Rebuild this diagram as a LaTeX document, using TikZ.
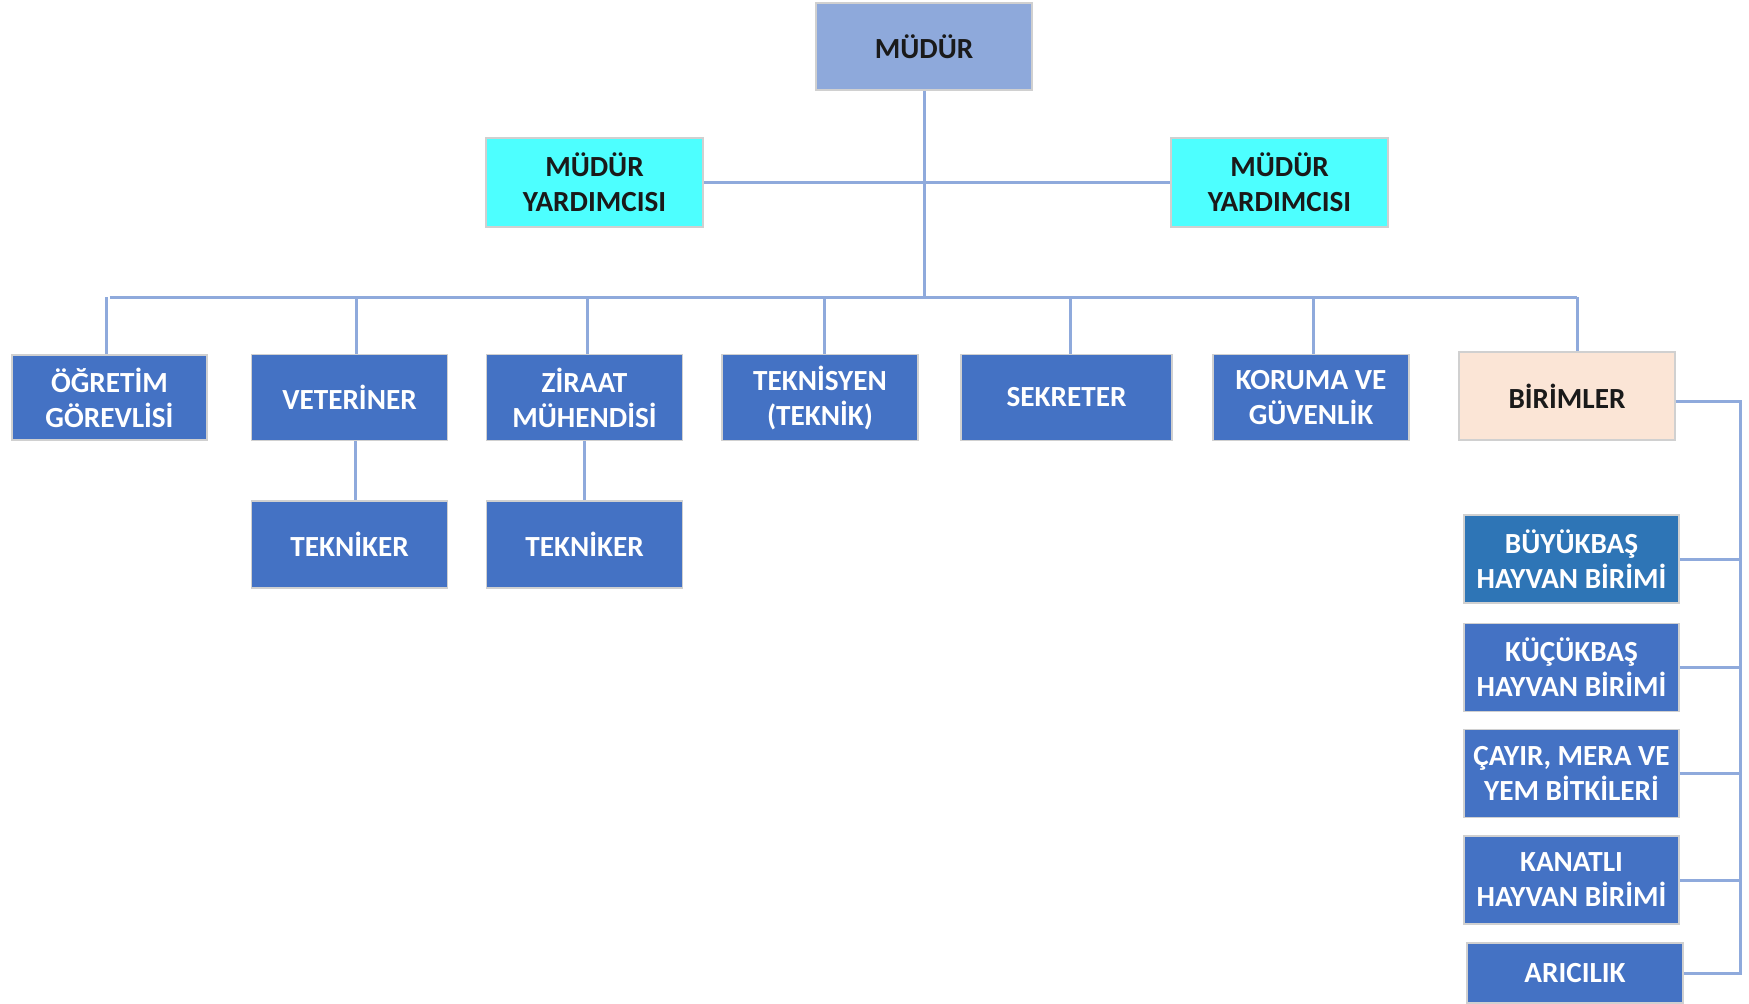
\documentclass[tikz,border=0pt]{standalone}
\usepackage{fontspec}
\setmainfont{Carlito}
\definecolor{topblue}{HTML}{8EA9DB}
\definecolor{cyanbox}{HTML}{4DFFFF}
\definecolor{midblue}{HTML}{4472C4}
\definecolor{deepblue}{HTML}{2E75B6}
\definecolor{peach}{HTML}{FBE5D6}
\definecolor{linkblue}{HTML}{8FAADC}
\definecolor{edgegray}{HTML}{D0D0D0}
\definecolor{darktext}{HTML}{1A1A1A}
\begin{document}
\begin{tikzpicture}[x=0.5pt,y=-0.5pt,
  box/.style={draw=edgegray, line width=0.8pt, align=center, inner sep=1pt,
    font=\bfseries\fontsize{14.6}{17.5}\selectfont},
  bluebox/.style={box, fill=midblue, text=white, minimum width=98pt, minimum height=43pt},
  unitbox/.style={box, fill=midblue, text=white, minimum width=107.5pt, minimum height=44pt},
  link/.style={draw=linkblue, line width=1.5pt}]
\useasboundingbox (0,0) rectangle (1749,1003);
\fill[white] (0,0) rectangle (1749,1003);

% top
\node[box, fill=topblue, text=darktext, minimum width=108pt, minimum height=43.5pt] (mud) at (924,46.5) {MÜDÜR};
\node[box, fill=cyanbox, text=darktext, minimum width=108.5pt, minimum height=44.5pt] (my1) at (594.5,182.5) {MÜDÜR\\YARDIMCISI};
\node[box, fill=cyanbox, text=darktext, minimum width=108.5pt, minimum height=44.5pt] (my2) at (1279.5,182.5) {MÜDÜR\\YARDIMCISI};

% row
\node[bluebox, minimum width=97.5pt, minimum height=42.5pt] (ogr) at (109.5,397.5) {ÖĞRETİM\\GÖREVLİSİ};
\node[bluebox] (vet) at (349.5,397.5) {VETERİNER};
\node[bluebox] (zir) at (584.5,397.5) {ZİRAAT\\MÜHENDİSİ};
\node[bluebox] (tks) at (820,397.5) {TEKNİSYEN\\(TEKNİK)};
\node[bluebox, minimum width=105.5pt] (sek) at (1066.5,397.5) {SEKRETER};
\node[bluebox] (kor) at (1311,397.5) {KORUMA VE\\GÜVENLİK};
\node[box, fill=peach, text=darktext, minimum width=108pt, minimum height=44pt] (bir) at (1567,396) {BİRİMLER};

\node[bluebox, minimum height=43.5pt] (tk1) at (349.5,544.5) {TEKNİKER};
\node[bluebox, minimum height=43.5pt] (tk2) at (584.5,544.5) {TEKNİKER};

% units
\node[unitbox, fill=deepblue] (buy) at (1571.5,559) {BÜYÜKBAŞ\\HAYVAN BİRİMİ};
\node[unitbox] (kuc) at (1571.5,667.5) {KÜÇÜKBAŞ\\HAYVAN BİRİMİ};
\node[unitbox] (cay) at (1571.5,773.5) {ÇAYIR, MERA VE\\YEM BİTKİLERİ};
\node[unitbox] (kan) at (1571.5,880) {KANATLI\\HAYVAN BİRİMİ};
\node[unitbox, minimum width=108pt, minimum height=30pt] (ari) at (1575,973) {ARICILIK};

% connectors
\coordinate (bus) at (924,297);
\coordinate (rb) at (1740,401);
\draw[link] (mud.south) -- (bus);
\draw[link] (my1.east) -- (my2.west);
\draw[link] (ogr.north |- bus) -- ([xshift=5pt]bir.north |- bus);
\foreach \n/\s in {ogr/-1.5pt,vet/3.5pt,zir/1.5pt,tks/2pt,sek/2pt,kor/1pt,bir/5pt}
  \draw[link] ([xshift=\s]\n.north |- bus) -- ([xshift=\s]\n.north);
\draw[link] ([xshift=3pt]vet.south) -- ([xshift=3pt]tk1.north);
\draw[link] (zir.south) -- (tk2.north);
\draw[link] ([yshift=-2.5pt]bir.east) -| (rb |- ari.east) -- (ari.east);
\foreach \n in {buy,kuc,cay,kan}
  \draw[link] (\n.east) -- (\n.east -| rb);
\end{tikzpicture}
\end{document}
